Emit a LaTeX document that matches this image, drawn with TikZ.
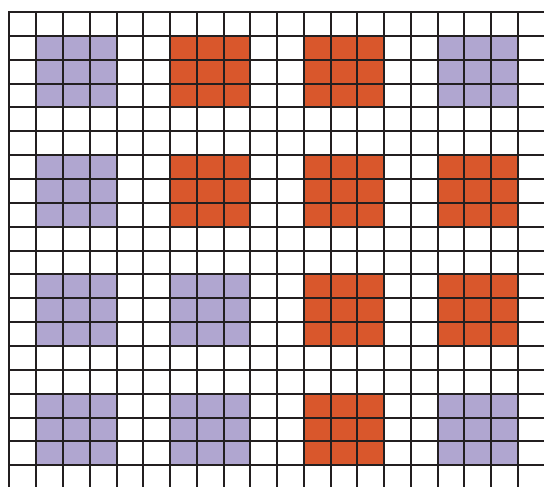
\documentclass[tikz,border=0pt]{standalone}
\usepackage{xcolor}
\definecolor{lilac}{RGB}{176,166,208}
\definecolor{rust}{RGB}{217,87,44}
\definecolor{ink}{RGB}{35,31,32}

\begin{document}
\begin{tikzpicture}[
        x=20.06pt,
        y=-17.89pt,
        gridline/.style={
            draw=ink,
            line width=1.5pt,
            line cap=rect
        },
        lilacblock/.style={fill=lilac},
        rustblock/.style={fill=rust}
    ]
        % Page: the grid runs off the right and bottom edges.
        \useasboundingbox (-0.355,-0.503) rectangle (19.98,19.87);
        \clip (-0.355,-0.503) rectangle (19.98,19.87);

        % Blocks of 3x3 cells, four per row, gaps of two cells
        \foreach \r/\c/\s in {%
            1/1/lilacblock,1/6/rustblock,1/11/rustblock,1/16/lilacblock,%
            6/1/lilacblock,6/6/rustblock,6/11/rustblock,6/16/rustblock,%
            11/1/lilacblock,11/6/lilacblock,11/11/rustblock,11/16/rustblock,%
            16/1/lilacblock,16/6/lilacblock,16/11/rustblock,16/16/lilacblock%
        }
            \fill[\s] (\c,\r) rectangle +(3,3);

        % Grid lines on top
        \foreach \k in {0,...,20}
            \draw[gridline] (\k,0) -- (\k,20.5);
        \foreach \k in {0,...,20}
            \draw[gridline] (0,\k) -- (20.5,\k);
    \end{tikzpicture}
\end{document}
